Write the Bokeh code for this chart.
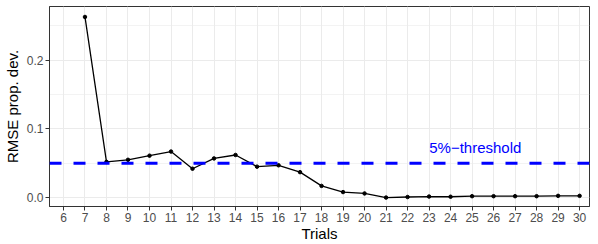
from bokeh.plotting import figure
from bokeh.models import Range1d, FixedTicker, NumeralTickFormatter, ColumnDataSource, Span, Label
from bokeh.embed import file_html
from bokeh.resources import INLINE

trials = [7, 8, 9, 10, 11, 12, 13, 14, 15, 16, 17, 18, 19, 20, 21, 22, 23, 24, 25, 26, 27, 28, 29, 30]
rmse = [0.263, 0.052, 0.055, 0.061, 0.067, 0.042, 0.057, 0.062, 0.045, 0.047, 0.037, 0.017,
        0.008, 0.006, 0.0, 0.0008, 0.0015, 0.0012, 0.002, 0.002, 0.002, 0.002, 0.0025, 0.0025]
x_ticks = list(range(6, 31))
y_ticks = [0.0, 0.1, 0.2]
y_minor = [0.05, 0.15, 0.25]
threshold = 0.05
threshold_label = "5%\u2212threshold"
x_title = "Trials"
y_title = "RMSE prop. dev."

p = figure(width=590, height=244, output_backend="svg", toolbar_location=None,
           x_range=Range1d(5.35, 30.46), y_range=Range1d(-0.013, 0.2782),
           min_border_left=45, min_border_right=1, min_border_top=6, min_border_bottom=37)

p.background_fill_color = "white"
p.border_fill_color = "white"
p.outline_line_color = "#333333"
p.outline_line_width = 1

p.xaxis.ticker = FixedTicker(ticks=x_ticks)
p.yaxis.ticker = FixedTicker(ticks=y_ticks, minor_ticks=y_minor)
p.yaxis.formatter = NumeralTickFormatter(format="0.0")
for ax in (p.xaxis, p.yaxis):
    ax.major_label_text_font = "Liberation Sans"
    ax.major_label_text_font_size = "12px"
    ax.major_label_text_color = "#4d4d4d"
    ax.axis_label_text_font = "Liberation Sans"
    ax.axis_label_text_font_size = "15px"
    ax.axis_label_text_font_style = "normal"
    ax.axis_label_text_color = "black"
    ax.axis_line_color = "#333333"
    ax.major_tick_line_color = "#333333"
    ax.major_tick_in = 0
    ax.major_tick_out = 4
    ax.minor_tick_line_color = None
    ax.major_label_standoff = 2
    ax.axis_label_standoff = 0
p.yaxis.axis_label_standoff = 3
p.xaxis.axis_label = x_title
p.yaxis.axis_label = y_title

p.xgrid.grid_line_color = "#ebebeb"
p.ygrid.grid_line_color = "#ebebeb"
p.ygrid.minor_grid_line_color = "#ebebeb"
p.xgrid.grid_line_width = 1
p.ygrid.minor_grid_line_width = 0.6

src = ColumnDataSource(dict(x=trials, y=rmse))
p.line("x", "y", source=src, line_color="black", line_width=1.3)
p.scatter("x", "y", source=src, size=3.5, color="black")

p.add_layout(Span(location=threshold, dimension="width", line_color="blue",
                  line_width=3, line_dash="12 12"))
p.add_layout(Label(x=25.15, y=0.060, text=threshold_label, text_color="blue",
                   text_font="Liberation Sans", text_font_size="15px",
                   text_align="center", text_baseline="bottom"))

open("out.html", "w").write(file_html(p, INLINE))
